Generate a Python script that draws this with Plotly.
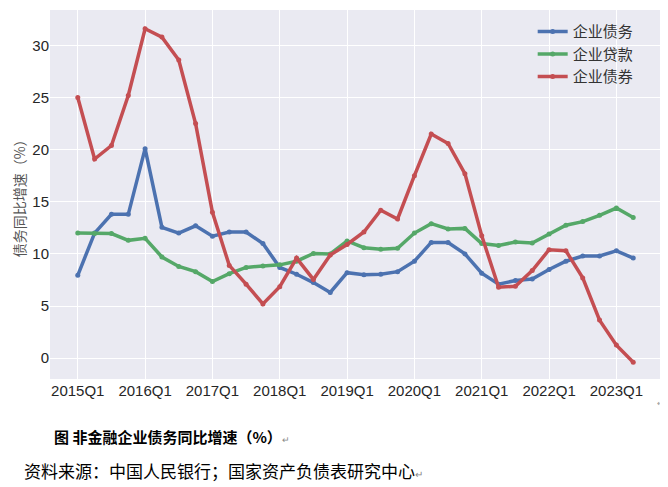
import plotly.graph_objects as go

quarters = [f"{y}Q{q}" for y in range(2015, 2024) for q in range(1, 5)][:34]
tick_labels = ["2015Q1", "2016Q1", "2017Q1", "2018Q1", "2019Q1", "2020Q1", "2021Q1", "2022Q1", "2023Q1"]

debt = [7.95, 12.0, 13.8, 13.8, 20.1, 12.55, 12.0, 12.7, 11.7, 12.1,
        12.1, 11.0, 8.7, 8.05, 7.25, 6.3, 8.2, 8.0, 8.05, 8.3,
        9.3, 11.1, 11.1, 10.0, 8.15, 7.1, 7.45, 7.6, 8.5, 9.3,
        9.8, 9.8, 10.3, 9.6]
loans = [12.0, 11.95, 11.95, 11.3, 11.5, 9.7, 8.8, 8.3, 7.35, 8.1,
         8.7, 8.85, 8.95, 9.3, 10.05, 10.0, 11.25, 10.6, 10.45, 10.55,
         12.0, 12.9, 12.4, 12.45, 11.0, 10.8, 11.15, 11.05, 11.9, 12.75,
         13.1, 13.7, 14.4, 13.5]
bonds = [25.0, 19.1, 20.4, 25.2, 31.6, 30.8, 28.6, 22.5, 14.0, 8.9,
         7.1, 5.2, 6.85, 9.6, 7.55, 9.9, 10.9, 12.1, 14.2, 13.35,
         17.5, 21.5, 20.6, 17.7, 11.75, 6.8, 6.9, 8.4, 10.4, 10.3,
         7.7, 3.65, 1.25, -0.4]

names = ["企业债务", "企业贷款", "企业债券"]
colors = ["#4C72B0", "#55A868", "#C44E52"]

xs = list(range(len(quarters)))
fig = go.Figure()
for name, vals, c in zip(names, [debt, loans, bonds], colors):
    fig.add_trace(go.Scatter(
        x=xs, y=vals, name=name, mode="lines+markers",
        line=dict(color=c, width=3.5),
        marker=dict(color=c, size=5),
        customdata=quarters,
    ))

cjk = "Noto Sans CJK SC, Liberation Sans, sans-serif"
fig.update_layout(
    width=660, height=479,
    margin=dict(l=42, r=7, t=2, b=108),
    paper_bgcolor="white",
    plot_bgcolor="#EAEAF2",
    font=dict(family="Liberation Sans, Arial, sans-serif", size=15, color="#262626"),
    showlegend=True,
    legend=dict(
        x=0.79, y=0.986, xanchor="left", yanchor="top",
        bgcolor="rgba(0,0,0,0)",
        font=dict(family=cjk, size=15, color="#333333"),
        itemwidth=30, tracegroupgap=0,
    ),
    xaxis=dict(
        range=[-1.65, 34.65],
        tickmode="array",
        tickvals=[xs[quarters.index(t)] for t in tick_labels],
        ticktext=tick_labels,
        showgrid=True, gridcolor="white", gridwidth=1,
        zeroline=False, showline=False, ticks="",
        tickfont=dict(size=15, color="#262626"),
        automargin=False, ticklabelstandoff=1,
    ),
    yaxis=dict(
        range=[-2.0, 33.4],
        tickvals=[0, 5, 10, 15, 20, 25, 30],
        showgrid=True, gridcolor="white", gridwidth=1,
        zeroline=False, showline=False, ticks="",
        tickfont=dict(size=15, color="#262626"),
        automargin=False,
    ),
    annotations=[
        dict(text="债务同比增速（%）", textangle=-90,
             xref="paper", yref="paper", x=-0.051, y=0.5, xanchor="center", yanchor="middle",
             showarrow=False, font=dict(family=cjk, size=14, color="#555555")),
        dict(text="<b>图 非金融企业债务同比增速（%）</b><span style='font-size:9px;color:#888'>↵</span>",
             xref="paper", yref="paper", x=0.003, y=-0.156, xanchor="left", yanchor="middle",
             showarrow=False, font=dict(family=cjk, size=15, color="#000000")),
        dict(text="资料来源：中国人民银行；国家资产负债表研究中心<span style='font-size:10px;color:#888'>↵</span>",
             xref="paper", yref="paper", x=-0.046, y=-0.247, xanchor="left", yanchor="middle",
             showarrow=False, font=dict(family=cjk, size=17, color="#000000")),
        dict(text="↵", xref="paper", yref="paper", x=1.008, y=-0.065, xanchor="right", yanchor="middle",
             showarrow=False, font=dict(family=cjk, size=8, color="#999999")),
    ],
)

fig.write_html("out.html")
